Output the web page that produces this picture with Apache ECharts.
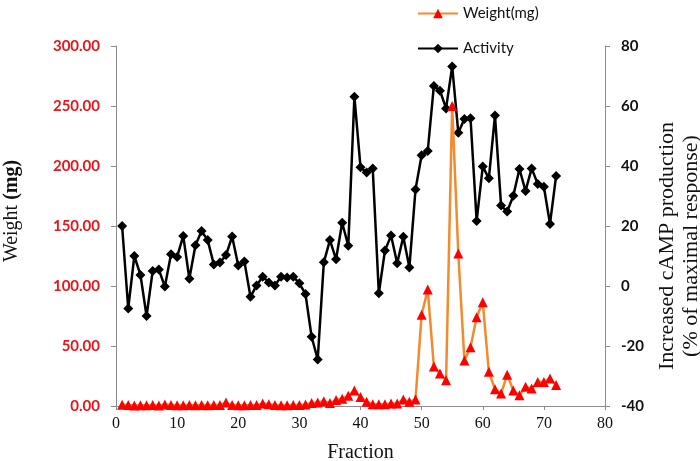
<!DOCTYPE html>
<html>
<head>
<meta charset="utf-8">
<script src="https://cdn.jsdelivr.net/npm/echarts@6/dist/echarts.min.js"></script>
<style>html,body{margin:0;padding:0;background:#fff}#c{width:700px;height:461px}</style>
</head>
<body>
<div id="c"></div>
<script>
const fractions = [1,2,3,4,5,6,7,8,9,10,11,12,13,14,15,16,17,18,19,20,21,22,23,24,25,26,27,28,29,30,31,32,33,34,35,36,37,38,39,40,41,42,43,44,45,46,47,48,49,50,51,52,53,54,55,56,57,58,59,60,61,62,63,64,65,66,67,68,69,70,71,72];
const weightMg = [1,0.8,0.5,0.7,0.6,0.8,0.5,1.2,0.9,0.6,0.7,0.8,0.6,0.9,0.7,0.8,0.9,3,0.8,0.6,0.7,0.8,0.9,2,1.5,0.8,0.6,0.7,0.8,0.9,1.2,2.5,3,4,2.5,5,6,8.5,13,7.5,3.5,1.5,1.5,1.5,2,2,5.5,3.5,5.5,76,97,33,27,21.5,250,127,38,49,74,86.5,28.5,14,10.5,26,13,9,16,14.5,20,20,23,17.5];
const activity = [20,-7.5,10,3.7,-10,5,5.5,-0.2,10.6,9.7,16.7,2.4,13.6,18.3,15.3,7.2,7.8,10.3,16.5,6.8,8.2,-3.6,0.2,3.1,1.2,0.2,3.1,2.8,3.1,0.9,-2.7,-16.9,-24.5,7.9,15.3,8.9,21.1,13.4,63.1,39.6,37.8,39.2,-2.4,11.8,16.8,7.6,16.4,6.2,32.2,43.6,45,66.7,65.1,59.2,73.2,51.1,55.7,55.9,21.7,39.8,35.9,56.8,26.8,24.8,30.1,39,31.7,39.2,34,33.1,20.7,36.7];
const xTicks = {min:0, max:80, interval:10};
const leftTicks = {min:0, max:300, interval:50};
const rightTicks = {min:-40, max:80, interval:20};

const chart = echarts.init(document.getElementById('c'), null, {renderer:'canvas'});
const axisGray = '#8c8c8c';
chart.setOption({
  animation:false,
  backgroundColor:'#fff',
  grid:{left:116, right:95, top:46, bottom:55, containLabel:false, outerBoundsMode:'none'},
  legend:{
    orient:'vertical', left:412, top:1, itemGap:20, itemWidth:40, itemHeight:12,
    textStyle:{fontFamily:'Lato', fontSize:15, color:'#111'},
    data:['Weight(mg)','Activity']
  },
  xAxis:{
    type:'value', min:xTicks.min, max:xTicks.max, interval:xTicks.interval,
    name:'Fraction', nameLocation:'middle', nameGap:37,
    nameTextStyle:{fontFamily:'Liberation Serif', fontSize:20, color:'#111'},
    axisLine:{show:true, lineStyle:{color:axisGray, width:1}},
    axisTick:{show:true, length:4, lineStyle:{color:axisGray}},
    axisLabel:{fontFamily:'Liberation Serif', fontSize:16, color:'#111', margin:10},
    splitLine:{show:false}
  },
  yAxis:[{
    type:'value', position:'left', min:leftTicks.min, max:leftTicks.max, interval:leftTicks.interval,
    name:'Weight {b|(mg)}', nameLocation:'middle', nameGap:94, nameRotate:90,
    nameTextStyle:{fontFamily:'Liberation Serif', fontSize:20, color:'#111', padding:[0,0,0,30],
      rich:{b:{fontFamily:'Liberation Serif', fontSize:20, fontWeight:'bold', color:'#111'}}},
    axisLine:{show:true, lineStyle:{color:axisGray, width:1}},
    axisTick:{show:true, length:5, lineStyle:{color:axisGray}},
    axisLabel:{fontFamily:'Lato', fontWeight:'bold', fontSize:15, color:'#e8151b', margin:16,
      formatter:v=>v.toFixed(2)},
    splitLine:{show:false}
  },{
    type:'value', position:'right', min:rightTicks.min, max:rightTicks.max, interval:rightTicks.interval,
    name:'Increased cAMP production\n(% of maximal response)', nameLocation:'middle', nameGap:35, nameRotate:90,
    nameTextStyle:{fontFamily:'Liberation Serif', fontSize:22, color:'#111', lineHeight:24, padding:[0,40,0,0]},
    axisLine:{show:true, lineStyle:{color:axisGray, width:1}},
    axisTick:{show:true, length:5, lineStyle:{color:axisGray}},
    axisLabel:{fontFamily:'Lato', fontWeight:'bold', fontSize:15, color:'#111', margin:16},
    splitLine:{show:false}
  }],
  series:[{
    name:'Activity', type:'line', yAxisIndex:1, z:2,
    data:fractions.map((f,i)=>[f,activity[i]]),
    symbol:'diamond', symbolSize:10, showAllSymbol:true,
    lineStyle:{color:'#000', width:2.5},
    itemStyle:{color:'#000'}
  },{
    name:'Weight(mg)', type:'line', yAxisIndex:0, z:3,
    data:fractions.map((f,i)=>[f,weightMg[i]]),
    symbol:'triangle', symbolSize:10, showAllSymbol:true,
    lineStyle:{color:'#f28a2e', width:2.5},
    itemStyle:{color:'#ff0000'}
  }]
});
</script>
</body>
</html>
